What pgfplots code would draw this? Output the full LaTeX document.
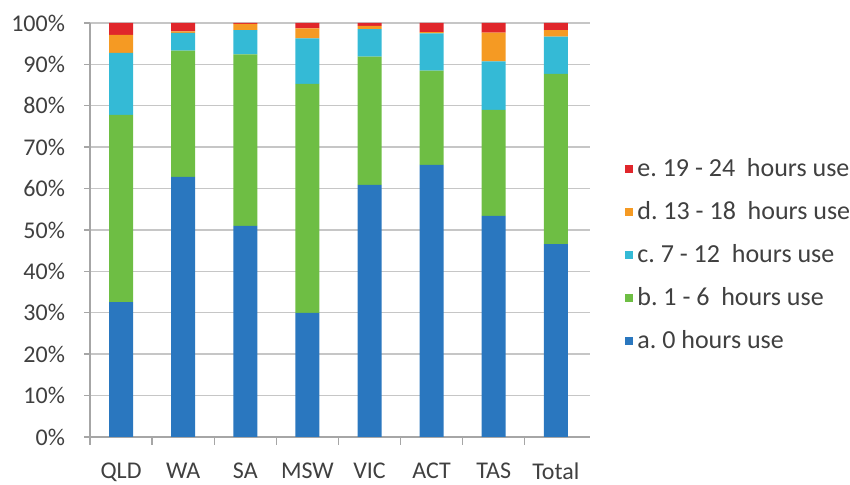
\documentclass[border=0pt]{standalone}
\usepackage{pgfplots}
\pgfplotsset{compat=1.18}
\usepackage{fontspec}
\setmainfont{Carlito}
\definecolor{cA}{HTML}{2A77BF}
\definecolor{cB}{HTML}{6EBE44}
\definecolor{cC}{HTML}{34BAD6}
\definecolor{cD}{HTML}{F59A23}
\definecolor{cE}{HTML}{E0262B}
\definecolor{txt}{HTML}{404040}
\begin{document}
\frenchspacing
\begin{tikzpicture}
\begin{axis}[
 at={(45pt,24pt)}, anchor=south west,
 scale only axis, width=250pt, height=207pt,
 ybar stacked, bar width=12pt,
 xmin=-0.5, xmax=7.55, ymin=0, ymax=100,
 xtick={0,...,7}, xticklabels={QLD,WA,SA,MSW,VIC,ACT,TAS,Total},
 minor xtick={-0.5,0.5,...,6.5},
 ytick={0,10,...,100},
 yticklabel={\pgfmathprintnumber{\tick}\%},
 /pgf/number format/assume math mode=true,
 ymajorgrids, grid style={gray!45, line width=0.7pt},
 axis x line*=bottom, axis y line*=left,
 axis line style={-, gray!70, line width=0.7pt},
 tick align=outside,
 major x tick style={draw=none},
 minor x tick style={gray!70, line width=0.7pt},
 y tick style={gray!70, line width=0.7pt},
 major tick length=3pt, minor tick length=4pt,
 ticklabel style={font=\fontsize{12}{14}\selectfont, text=txt},
 xticklabel style={yshift=-6.5pt},
 yticklabel style={xshift=-6pt},
 reverse legend,
 legend style={at={(1.07,0.683)}, anchor=north west, draw=none, fill=none,
   font=\fontsize{13}{15}\selectfont, text=txt, row sep=7pt, inner sep=0pt,
   nodes={inner xsep=2pt}},
 legend cell align=left,
 legend image code/.code={\fill[#1,draw=none] (0pt,-2pt) rectangle (4pt,2pt);},
 draw=none,
]
\addplot[fill=cA, draw=none] coordinates {(0,32.6) (1,62.8) (2,51.0) (3,30.0) (4,60.9) (5,65.7) (6,53.4) (7,46.6)};
\addplot[fill=cB, draw=none] coordinates {(0,45.2) (1,30.5) (2,41.4) (3,55.3) (4,31.0) (5,22.8) (6,25.6) (7,41.1)};
\addplot[fill=cC, draw=none] coordinates {(0,15.0) (1,4.3) (2,5.9) (3,11.0) (4,6.6) (5,9.0) (6,11.7) (7,9.0)};
\addplot[fill=cD, draw=none] coordinates {(0,4.3) (1,0.4) (2,1.5) (3,2.4) (4,0.8) (5,0.3) (6,7.0) (7,1.6)};
\addplot[fill=cE, draw=none] coordinates {(0,2.9) (1,2.0) (2,0.2) (3,1.3) (4,0.7) (5,2.2) (6,2.3) (7,1.7)};
\legend{a. 0 hours use, b. 1 - 6\ \ hours use, c. 7 - 12\ \ hours use, d. 13 - 18\ \ hours use, e. 19 - 24\ \ hours use}
\end{axis}
\pgfresetboundingbox
\useasboundingbox (0,0) rectangle (425pt,242.5pt);
\end{tikzpicture}
\end{document}
